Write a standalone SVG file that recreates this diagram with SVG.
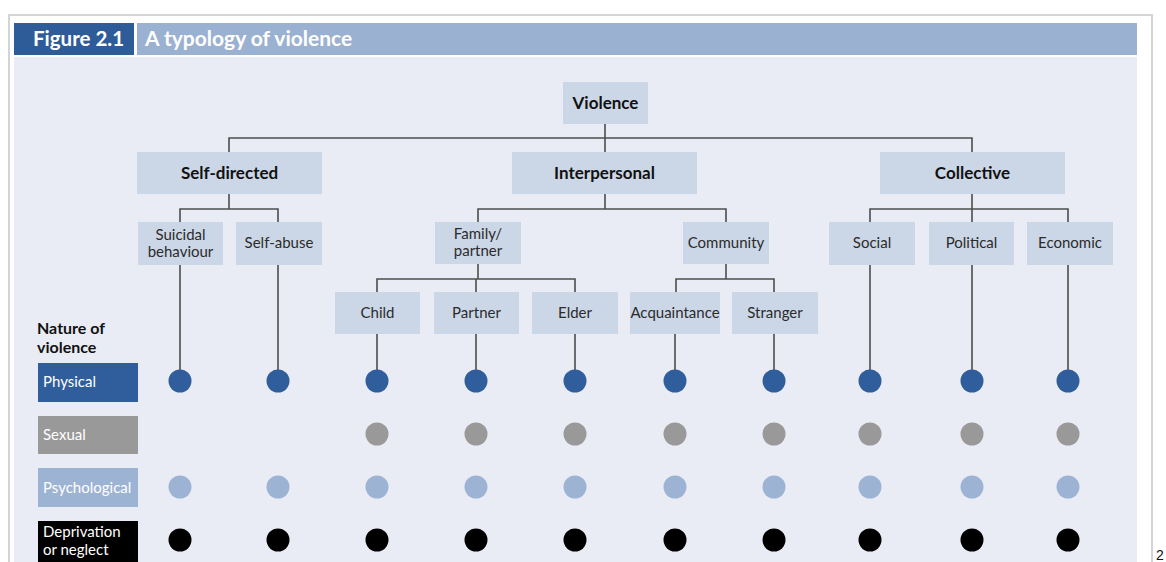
<svg xmlns="http://www.w3.org/2000/svg" width="1166" height="562" viewBox="0 0 1166 562">
  <style>
    .frame { fill: none; stroke: #d4d4d4; stroke-width: 2; }
    .box { fill: #cbd7e7; }
    .lbl { font-family: Lato, "Open Sans", "Liberation Sans", sans-serif; font-size: 15px; fill: #2b2b2b; text-anchor: middle; }
    .bold { font-weight: bold; font-size: 17px; fill: #111; }
    .conn { fill: none; stroke: #4d4d4d; stroke-width: 1.6; }
    .leg { font-family: Lato, "Open Sans", "Liberation Sans", sans-serif; font-size: 15px; fill: #ffffff; }
    .phys { fill: #305e9c; }
    .sex { fill: #999999; }
    .psy { fill: #9db3d4; }
    .dep { fill: #000000; }
  </style>

  <!-- page frame -->
  <rect x="0" y="0" width="1166" height="562" fill="#ffffff"/>
  <path class="frame" d="M9,570 V15 H1152 V570"/>

  <!-- title bar -->
  <rect x="14" y="23" width="120" height="32" fill="#2e5c98"/>
  <rect x="137" y="23" width="1000" height="32" fill="#9bb1d2"/>
  <text x="33" y="46" font-family="Lato, 'Open Sans', 'Liberation Sans', sans-serif" font-size="20.5" font-weight="bold" fill="#ffffff">Figure 2.1</text>
  <text x="145" y="46" font-family="Lato, 'Open Sans', 'Liberation Sans', sans-serif" font-size="21" font-weight="bold" fill="#ffffff">A typology of violence</text>

  <!-- panel -->
  <rect x="14" y="57" width="1123" height="510" fill="#e9ecf4"/>

  <!-- connectors -->
  <g id="connectors">
    <path class="conn" d="M605,124 V138 M229,152 V138 H972 V152 M605,138 V152"/>
    <path class="conn" d="M229,194 V209 M180,222 V209 H278 V222"/>
    <path class="conn" d="M605,194 V209 M478,222 V209 H726 V222"/>
    <path class="conn" d="M972,194 V209 M870,222 V209 H1068 V222 M972,209 V222"/>
    <path class="conn" d="M478,264 V279 M377,292 V279 H575 V292 M476,279 V292"/>
    <path class="conn" d="M726,264 V279 M676,292 V279 H774 V292"/>
    <!-- drops to the physical row -->
    <path class="conn" d="M180,265 V381 M278,265 V381 M377,334 V381 M476,334 V381 M575,334 V381 M675,334 V381 M774,334 V381 M870,265 V381 M972,265 V381 M1068,265 V381"/>
  </g>

  <!-- tree nodes -->
  <g id="n-violence"><rect class="box" x="563" y="82" width="85" height="42"/><text class="lbl bold" x="605.5" y="109">Violence</text></g>

  <g id="n-self-directed"><rect class="box" x="137" y="152" width="185" height="42"/><text class="lbl bold" x="229.5" y="179">Self-directed</text></g>
  <g id="n-interpersonal"><rect class="box" x="512" y="152" width="185" height="42"/><text class="lbl bold" x="604.5" y="179">Interpersonal</text></g>
  <g id="n-collective"><rect class="box" x="880" y="152" width="185" height="42"/><text class="lbl bold" x="972.5" y="179">Collective</text></g>

  <g id="n-suicidal"><rect class="box" x="138" y="222" width="85" height="43"/><text class="lbl" x="180.5" y="240">Suicidal</text><text class="lbl" x="180.5" y="257">behaviour</text></g>
  <g id="n-self-abuse"><rect class="box" x="236" y="222" width="86" height="43"/><text class="lbl" x="279" y="248">Self-abuse</text></g>
  <g id="n-family"><rect class="box" x="435" y="222" width="86" height="42"/><text class="lbl" x="478" y="239">Family/</text><text class="lbl" x="478" y="256">partner</text></g>
  <g id="n-community"><rect class="box" x="683" y="222" width="86" height="42"/><text class="lbl" x="726" y="248">Community</text></g>
  <g id="n-social"><rect class="box" x="829" y="222" width="86" height="43"/><text class="lbl" x="872" y="248">Social</text></g>
  <g id="n-political"><rect class="box" x="929" y="222" width="85" height="43"/><text class="lbl" x="971.5" y="248">Political</text></g>
  <g id="n-economic"><rect class="box" x="1027" y="222" width="86" height="43"/><text class="lbl" x="1070" y="248">Economic</text></g>

  <g id="n-child"><rect class="box" x="335" y="292" width="85" height="42"/><text class="lbl" x="377.5" y="318">Child</text></g>
  <g id="n-partner"><rect class="box" x="434" y="292" width="85" height="42"/><text class="lbl" x="476.5" y="318">Partner</text></g>
  <g id="n-elder"><rect class="box" x="532" y="292" width="86" height="42"/><text class="lbl" x="575" y="318">Elder</text></g>
  <g id="n-acquaintance"><rect class="box" x="630" y="292" width="90" height="42"/><text class="lbl" x="675" y="318">Acquaintance</text></g>
  <g id="n-stranger"><rect class="box" x="732" y="292" width="86" height="42"/><text class="lbl" x="775" y="318">Stranger</text></g>

  <!-- legend -->
  <g id="legend">
    <text x="37" y="334" font-family="Lato, 'Open Sans', 'Liberation Sans', sans-serif" font-size="16" font-weight="bold" fill="#111">Nature of</text>
    <text x="37" y="353" font-family="Lato, 'Open Sans', 'Liberation Sans', sans-serif" font-size="16" font-weight="bold" fill="#111">violence</text>
    <rect class="phys" x="38" y="363" width="100" height="39"/>
    <text class="leg" x="43" y="387">Physical</text>
    <rect class="sex" x="38" y="416" width="100" height="38"/>
    <text class="leg" x="43" y="440">Sexual</text>
    <rect class="psy" x="38" y="468" width="100" height="39"/>
    <text class="leg" x="43" y="493">Psychological</text>
    <rect class="dep" x="38" y="521" width="100" height="45"/>
    <text class="leg" x="43" y="537">Deprivation</text>
    <text class="leg" x="43" y="555">or neglect</text>
  </g>

  <!-- markers per column -->
  <g id="dots-physical" class="phys">
    <circle cx="180" cy="381" r="11.5"/><circle cx="278" cy="381" r="11.5"/><circle cx="377" cy="381" r="11.5"/><circle cx="476" cy="381" r="11.5"/><circle cx="575" cy="381" r="11.5"/><circle cx="675" cy="381" r="11.5"/><circle cx="774" cy="381" r="11.5"/><circle cx="870" cy="381" r="11.5"/><circle cx="972" cy="381" r="11.5"/><circle cx="1068" cy="381" r="11.5"/>
  </g>
  <g id="dots-sexual" class="sex">
    <circle cx="377" cy="434" r="11.5"/><circle cx="476" cy="434" r="11.5"/><circle cx="575" cy="434" r="11.5"/><circle cx="675" cy="434" r="11.5"/><circle cx="774" cy="434" r="11.5"/><circle cx="870" cy="434" r="11.5"/><circle cx="972" cy="434" r="11.5"/><circle cx="1068" cy="434" r="11.5"/>
  </g>
  <g id="dots-psychological" class="psy">
    <circle cx="180" cy="487" r="11.5"/><circle cx="278" cy="487" r="11.5"/><circle cx="377" cy="487" r="11.5"/><circle cx="476" cy="487" r="11.5"/><circle cx="575" cy="487" r="11.5"/><circle cx="675" cy="487" r="11.5"/><circle cx="774" cy="487" r="11.5"/><circle cx="870" cy="487" r="11.5"/><circle cx="972" cy="487" r="11.5"/><circle cx="1068" cy="487" r="11.5"/>
  </g>
  <g id="dots-deprivation" class="dep">
    <circle cx="180" cy="540" r="11.5"/><circle cx="278" cy="540" r="11.5"/><circle cx="377" cy="540" r="11.5"/><circle cx="476" cy="540" r="11.5"/><circle cx="575" cy="540" r="11.5"/><circle cx="675" cy="540" r="11.5"/><circle cx="774" cy="540" r="11.5"/><circle cx="870" cy="540" r="11.5"/><circle cx="972" cy="540" r="11.5"/><circle cx="1068" cy="540" r="11.5"/>
  </g>

  <!-- page number -->
  <text x="1156" y="560" font-family="'Liberation Sans', sans-serif" font-size="14" fill="#111">2</text>
</svg>
